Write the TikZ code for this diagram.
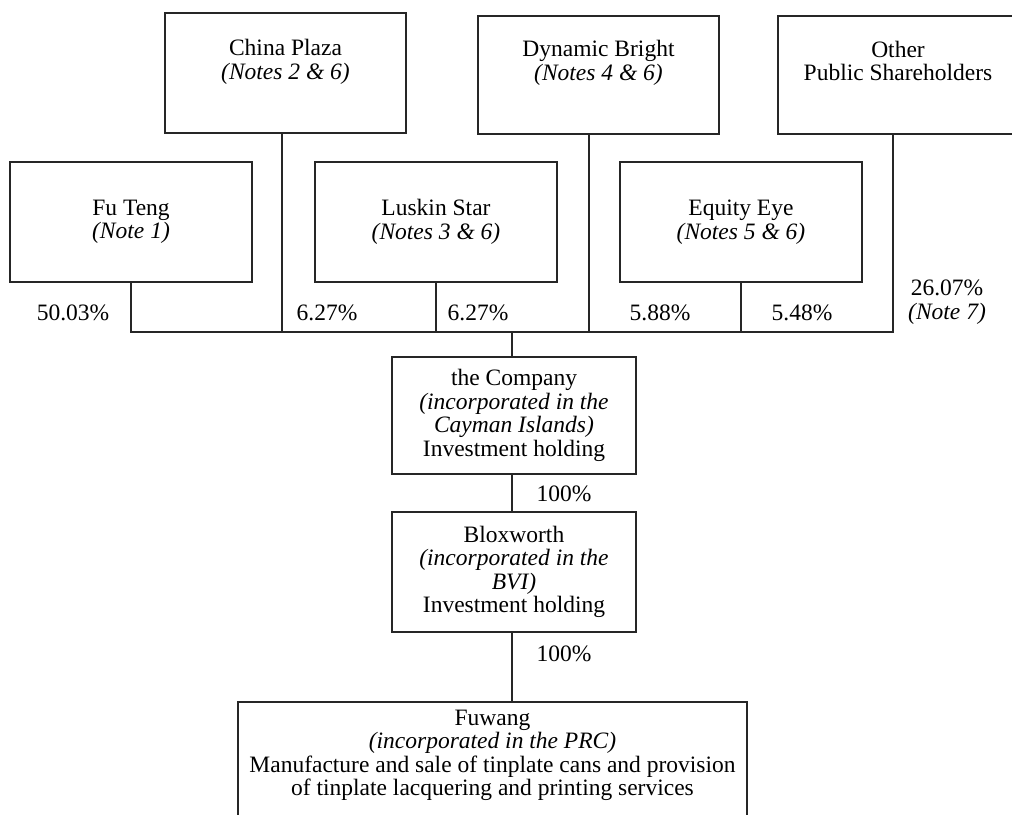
\documentclass[tikz,border=0pt]{standalone}
\usepackage{fontspec}
\setmainfont{Liberation Serif}
\begin{document}
\begin{tikzpicture}[x=1pt,y=-1pt,
  box/.style={draw=black!85, line width=1.1pt, rectangle, inner sep=0pt, align=center,
    font=\fontsize{23.5}{23.5}\selectfont},
  pct/.style={inner sep=0pt, align=center, font=\fontsize{23.5}{23.5}\selectfont},
  conn/.style={draw=black!85, line width=1.1pt}]
\useasboundingbox (0,0) rectangle (1012,814);
\clip (0,0) rectangle (1012,814);
% top row
\node[box, minimum width=241pt, minimum height=120pt] (cp) at (285.5,73) {};
\node[pct] (cptxt) at ([yshift=11pt]cp.center) {China Plaza\\\textit{(Notes 2 \& 6)}};
\node[box, minimum width=241pt, minimum height=118pt] (db) at (598.5,75) {};
\node[pct] (dbtxt) at ([yshift=12pt]db.center) {Dynamic Bright\\\textit{(Notes 4 \& 6)}};
\node[box, minimum width=240pt, minimum height=118pt] (other) at (898,75) {};
\node[pct] (othertxt) at ([yshift=14pt]other.center) {Other\\Public Shareholders};
% second row
\node[box, minimum width=242pt, minimum height=120pt] (futeng) at (131,222)
  {Fu Teng\\\textit{(Note 1)}};
\node[box, minimum width=242pt, minimum height=120pt] (luskin) at (436,222)
  {Luskin Star\\\textit{(Notes 3 \& 6)}};
\node[box, minimum width=242pt, minimum height=120pt] (equity) at (741,222)
  {Equity Eye\\\textit{(Notes 5 \& 6)}};
% lower chain
\node[box, minimum width=244pt, minimum height=117pt] (company) at (514,415.5)
  {the Company\\\textit{(incorporated in the}\\\textit{Cayman Islands)}\\Investment holding};
\node[box, minimum width=244pt, minimum height=120pt] (blox) at (514,572)
  {Bloxworth\\\textit{(incorporated in the}\\\textit{BVI)}\\Investment holding};
\node[box, minimum width=509pt, minimum height=154pt] (fuwang) at (492.5,779) {};
\node[pct, anchor=north] (fuwangtxt) at ([yshift=-8pt]fuwang.north)
  {Fuwang\\\textit{(incorporated in the PRC)}\\Manufacture and sale of tinplate cans and provision\\of tinplate lacquering and printing services};
% bus
\coordinate (bus) at (512,332);
\draw[conn] (futeng.south) |- (bus);
\draw[conn] (bus) -| ([xshift=-5pt]other.south);
\draw[conn] ([xshift=-3.5pt]cp.south) |- (bus);
\draw[conn] (luskin.south) |- (bus);
\draw[conn] ([xshift=-9.5pt]db.south) |- (bus);
\draw[conn] (equity.south) |- (bus);
\draw[conn] (bus) -- (company.north -| bus);
\draw[conn] (company.south -| bus) -- (blox.north -| bus);
\draw[conn] (blox.south -| bus) -- (fuwang.north -| bus);
% percentages
\node[pct] (p1) at (73,313) {50.03\%};
\node[pct] (p2) at (327,313) {6.27\%};
\node[pct] (p3) at (478,313) {6.27\%};
\node[pct] (p4) at (660,313) {5.88\%};
\node[pct] (p5) at (802,313) {5.48\%};
\node[pct] (p6) at (947,302) {26.07\%\\\textit{(Note 7)}};
\node[pct] (p7) at (564,494) {100\%};
\node[pct] (p8) at (564,654) {100\%};
\end{tikzpicture}
\end{document}
